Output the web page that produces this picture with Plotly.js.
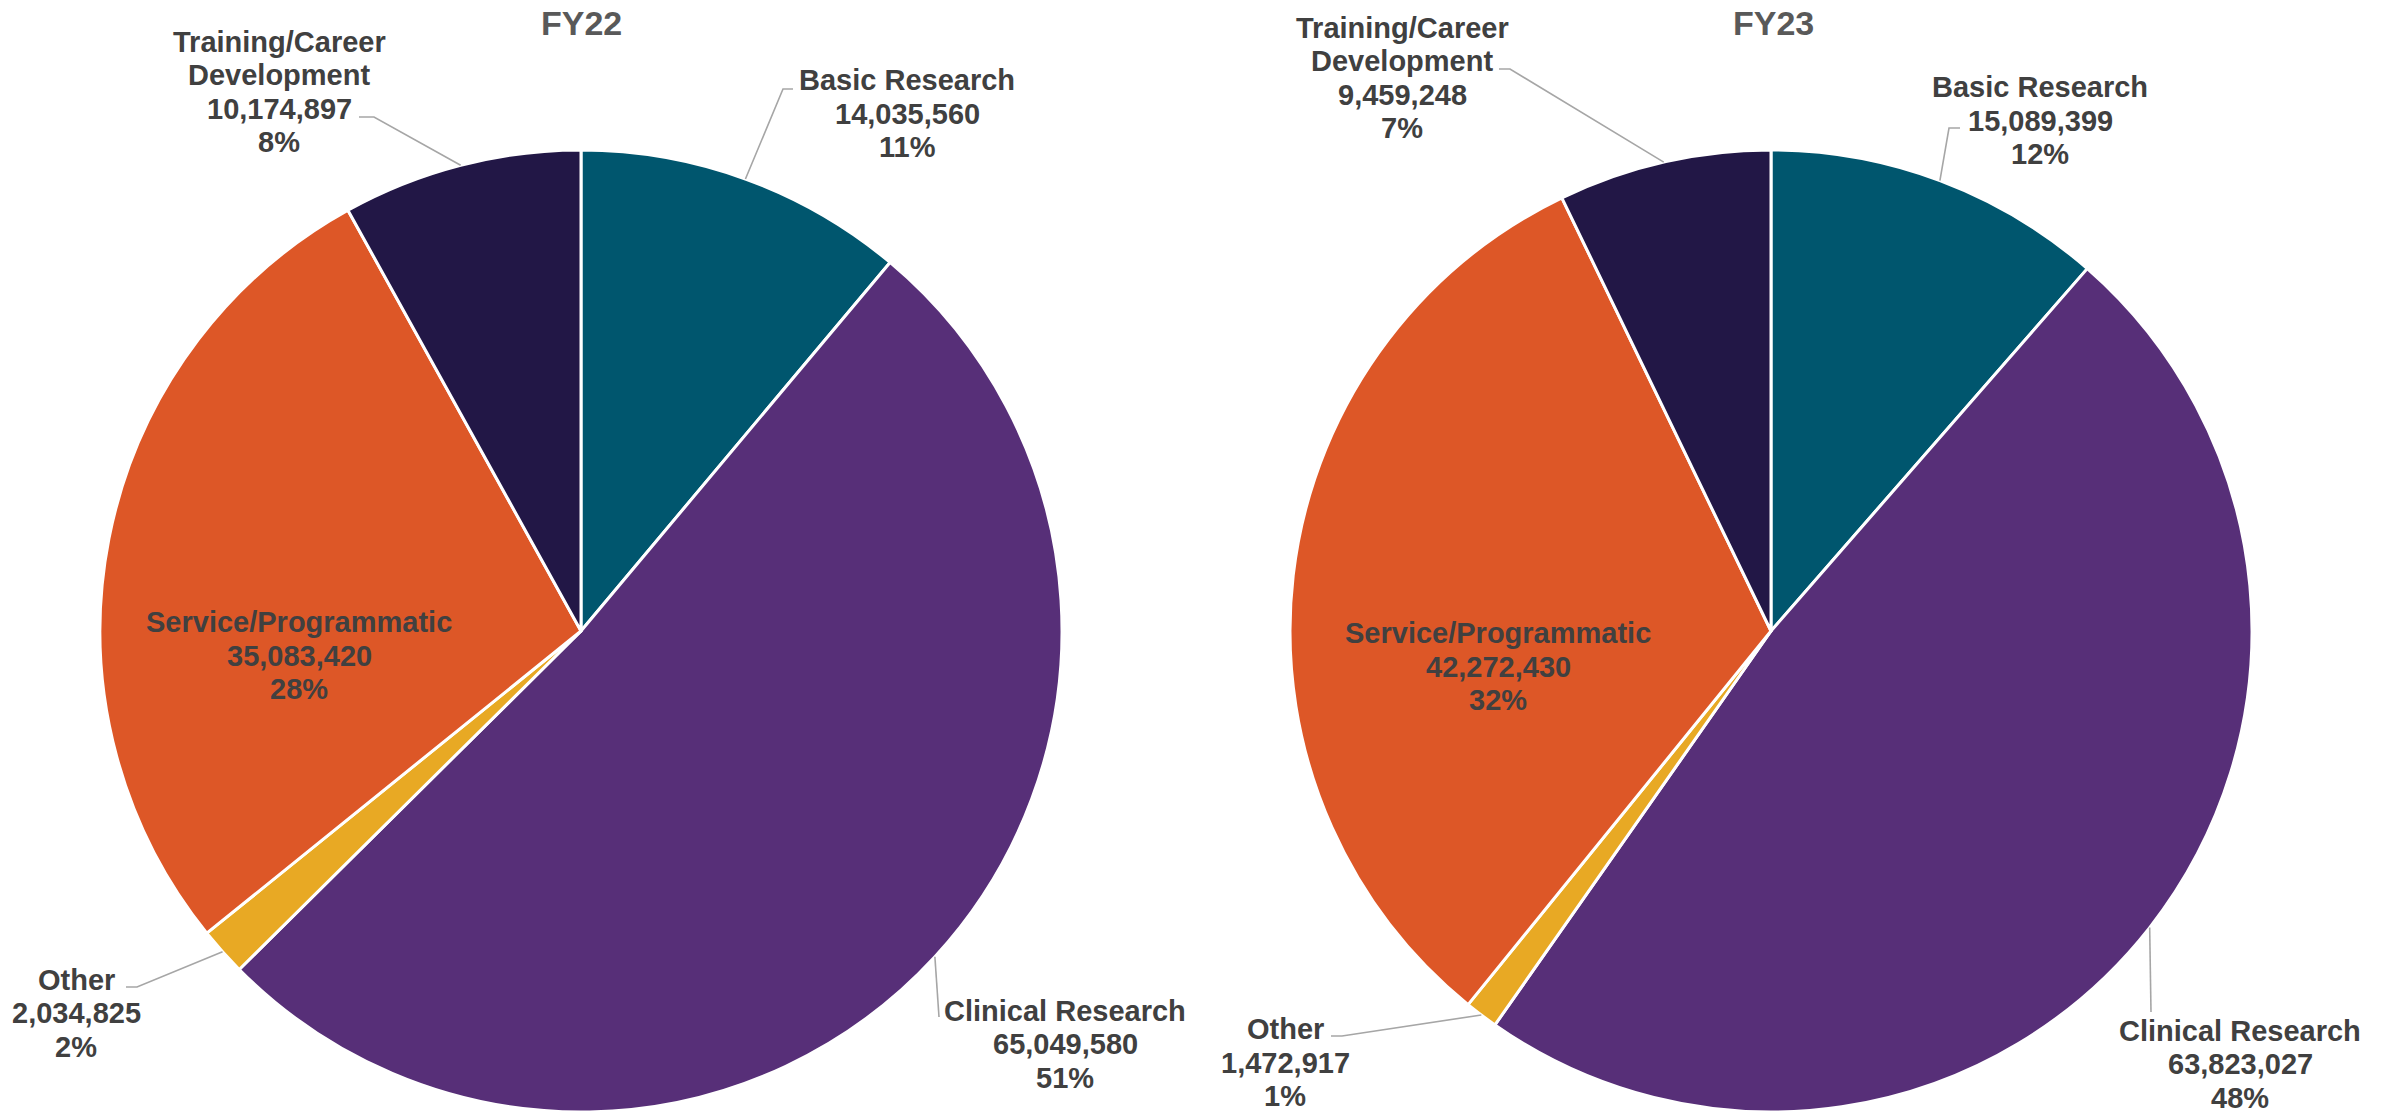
<!DOCTYPE html>
<html>
<head>
<meta charset="utf-8">
<script src="https://cdn.plot.ly/plotly-3.0.1.min.js"></script>
<style>html,body{margin:0;padding:0;background:#fff;}#chart{width:2394px;height:1114px;}</style>
</head>
<body>
<div id="chart"></div>
<script>
// ---- data ----
const categories = ['Basic Research', 'Clinical Research', 'Other', 'Service/Programmatic', 'Training/Career Development'];
const labelLines = [['Basic Research'], ['Clinical Research'], ['Other'], ['Service/Programmatic'], ['Training/Career', 'Development']];
const fy22Values = [14035560, 65049580, 2034825, 35083420, 10174897];
const fy23Values = [15089399, 63823027, 1472917, 42272430, 9459248];
const chartTitles = ['FY22', 'FY23'];
const sliceColors = ['#00566E', '#572F78', '#E8A924', '#DD5727', '#221746'];

// ---- layout constants (pixels) ----
const W = 2394, H = 1114;
const R = 481;
const centers = [[581, 631], [1771, 631]];
const titlePos = [[581, 23], [1773, 23]];
const lineGap = 33.5;
// label text-block centres, per chart, per category
const labelPos = [
  [[907, 113.5], [1065, 1044], [76, 1013.5], [299, 655.5], [279, 92]],
  [[2040, 120.5], [2240, 1064], [1285, 1062.5], [1498, 666.5], [1402, 78]]
];
// leader line: elbow point and end of the short horizontal tick (null = no tick)
const leaders = [
  [[[783, 89], [793, 89]], [[939, 1017], null], [[137, 987], [126, 987]], null, [[374, 117], [359, 117]]],
  [[[1949, 128], [1960, 128]], [[2151, 1012], null], [[1342, 1036], [1331, 1036]], null, [[1510, 69], [1499, 69]]]
];

const textColor = '#404040';
const titleColor = '#595959';
const leaderColor = '#A6A6A6';
const fontFam = 'Liberation Sans, Arial, sans-serif';

function fmt(v) { return v.toLocaleString('en-US'); }
// whole-number percentages that add up to 100 (largest remainder)
function percents(vals) {
  const total = vals.reduce((a, b) => a + b, 0);
  const raw = vals.map(v => v / total * 100);
  const out = raw.map(Math.floor);
  let left = 100 - out.reduce((a, b) => a + b, 0);
  const order = raw.map((r, i) => [r - Math.floor(r), i]).sort((a, b) => b[0] - a[0]);
  for (let j = 0; j < left; j++) out[order[j][1]] += 1;
  return out;
}
const px = x => x / W;
const py = y => 1 - y / H;

const seriesList = [fy22Values, fy23Values];
const traces = [];
const annotations = [];
const shapes = [];

seriesList.forEach((vals, k) => {
  const [cx, cy] = centers[k];
  traces.push({
    type: 'pie',
    labels: categories,
    values: vals,
    sort: false,
    direction: 'clockwise',
    rotation: 0,
    marker: { colors: sliceColors, line: { color: '#FFFFFF', width: 3 } },
    textinfo: 'none',
    hoverinfo: 'skip',
    showlegend: false,
    domain: { x: [px(cx - R), px(cx + R)], y: [py(cy + R), py(cy - R)] }
  });

  const total = vals.reduce((a, b) => a + b, 0);
  const pcts = percents(vals);
  let cum = 0;
  vals.forEach((v, i) => {
    const frac = v / total;
    const ang = (cum + frac / 2) * 2 * Math.PI;
    cum += frac;
    const ax = cx + R * Math.sin(ang);
    const ay = cy - R * Math.cos(ang);

    const lines = labelLines[i].concat([fmt(v), pcts[i] + '%']);
    const [lx, ly] = labelPos[k][i];
    lines.forEach((t, j) => {
      annotations.push({
        text: t,
        font: { family: fontFam, size: 29, color: textColor, weight: 'bold' },
        xref: 'paper', yref: 'paper',
        x: px(lx), y: py(ly + (j - (lines.length - 1) / 2) * lineGap),
        xanchor: 'center', yanchor: 'middle', showarrow: false
      });
    });

    const ld = leaders[k][i];
    if (ld) {
      let path = 'M' + px(ax) + ',' + py(ay) + ' L' + px(ld[0][0]) + ',' + py(ld[0][1]);
      if (ld[1]) path += ' L' + px(ld[1][0]) + ',' + py(ld[1][1]);
      shapes.push({
        type: 'path', xref: 'paper', yref: 'paper', path: path,
        line: { color: leaderColor, width: 1.6 }, layer: 'above'
      });
    }
  });

  annotations.push({
    text: chartTitles[k],
    font: { family: fontFam, size: 34, color: titleColor, weight: 'bold' },
    xref: 'paper', yref: 'paper',
    x: px(titlePos[k][0]), y: py(titlePos[k][1]),
    xanchor: 'center', yanchor: 'middle', showarrow: false
  });
});

const layout = {
  width: W, height: H,
  margin: { l: 0, r: 0, t: 0, b: 0 },
  paper_bgcolor: '#FFFFFF',
  plot_bgcolor: '#FFFFFF',
  showlegend: false,
  annotations: annotations,
  shapes: shapes
};

Plotly.newPlot('chart', traces, layout, { displayModeBar: false, staticPlot: true });
</script>
</body>
</html>
